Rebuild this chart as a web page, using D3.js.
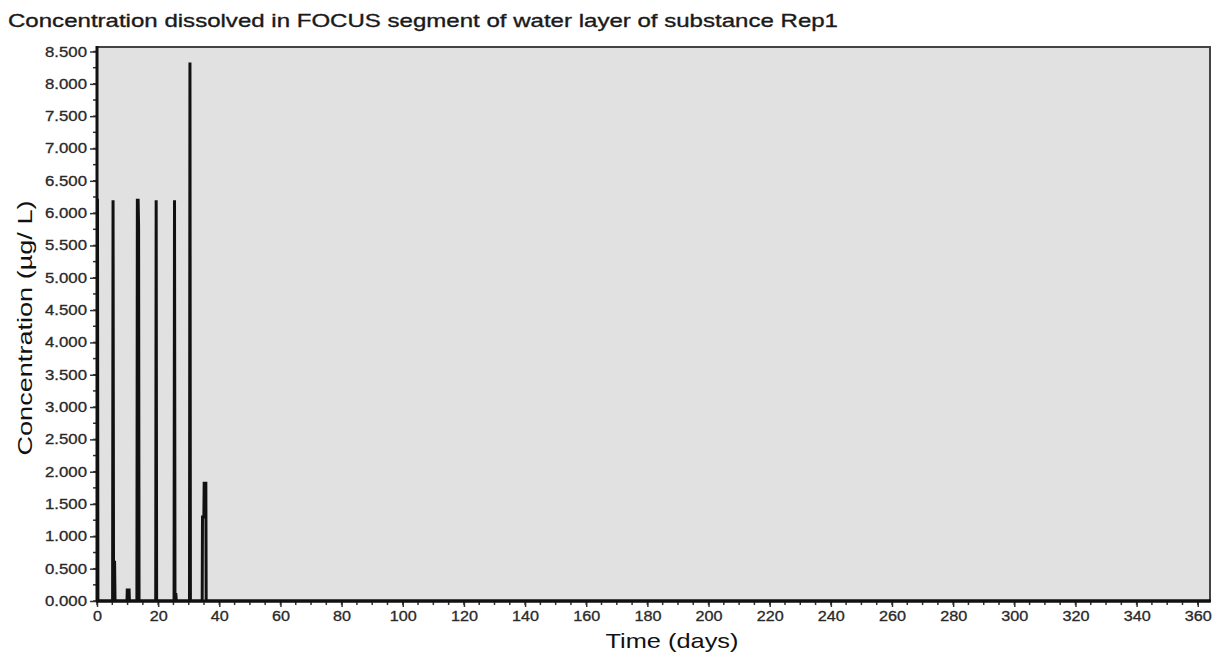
<!DOCTYPE html>
<html><head><meta charset="utf-8">
<script src="https://cdn.jsdelivr.net/npm/d3@7"></script>
<style>body{margin:0;background:#fff}svg{display:block;font-family:"Liberation Sans",Arial,sans-serif}</style>
</head><body><svg id="c" width="1219" height="657"></svg>
<script>
const title = "Concentration dissolved in FOCUS segment of water layer of substance Rep1";
const xLabel = "Time (days)";
const yLabel = "Concentration  (µg/ L)";
// time (days) and dissolved concentration (µg/L)
const times = [0, 0.15, 0.3, 5.1, 5.25, 5.4, 5.75, 5.9, 9.8, 9.9, 10.5, 10.6, 13.05, 13.2, 13.45, 13.6, 13.75, 19.2, 19.35, 19.5, 25.2, 25.35, 25.5, 25.8, 25.95, 30.25, 30.4, 30.55, 34.4, 34.5, 34.95, 35.05, 35.6, 35.7, 364];
const conc  = [6.2, 6.2, 0, 0, 6.2, 0.6, 0.6, 0, 0, 0.17, 0.17, 0, 0, 6.2, 6.2, 5.78, 0, 0, 6.2, 0, 0, 6.2, 0.1, 0.1, 0, 0, 8.33, 0, 0, 1.3, 1.3, 1.82, 1.82, 0, 0];
const xTicks = d3.range(0, 361, 20);
const xMinor = d3.range(0, 364, 5);
const yTicks = d3.range(0, 8.51, 0.5);
const yMinor = d3.range(0, 8.51, 0.25);

const svg = d3.select("#c");
const L = 97, R = 1210, T = 47, B = 601;
const x = d3.scaleLinear().domain([0, 364]).range([L, R]);
const y = d3.scaleLinear().domain([0, 8.57]).range([B, T]);

svg.append("text").attr("x", 8).attr("y", 27).attr("font-size", 19).attr("fill", "#1a1a1a")
  .attr("stroke", "#1a1a1a").attr("stroke-width", 0.35)
  .attr("textLength", 830).attr("lengthAdjust", "spacingAndGlyphs").text(title);

svg.append("rect").attr("x", L).attr("y", T).attr("width", R - L).attr("height", B - T)
  .attr("fill", "#e1e1e1").attr("stroke", "#444").attr("stroke-width", 2);

// minor ticks
svg.append("g").selectAll("line").data(yMinor).join("line")
  .attr("x1", L - 4).attr("x2", L).attr("y1", d => y(d)).attr("y2", d => y(d))
  .attr("stroke", "#333").attr("stroke-width", 1.5);
svg.append("g").selectAll("line").data(xMinor).join("line")
  .attr("y1", B).attr("y2", B + 4).attr("x1", d => x(d)).attr("x2", d => x(d))
  .attr("stroke", "#333").attr("stroke-width", 1.5);

const yAxis = svg.append("g").attr("transform", `translate(${L},0)`)
  .call(d3.axisLeft(y).tickValues(yTicks).tickFormat(d3.format(".3f")).tickSize(7).tickPadding(3));
const xAxis = svg.append("g").attr("transform", `translate(0,${B})`)
  .call(d3.axisBottom(x).tickValues(xTicks).tickFormat(d3.format("d")).tickSize(6).tickPadding(4));
[yAxis, xAxis].forEach(g => {
  g.select(".domain").remove();
  g.selectAll("line").attr("stroke", "#333").attr("stroke-width", 1.5);
  g.selectAll("text").attr("font-size", 14).attr("fill", "#2a2a2a").attr("stroke", "#2a2a2a").attr("stroke-width", 0.3)
    .attr("font-family", "Liberation Sans, Arial, sans-serif");
});
yAxis.selectAll("text").attr("textLength", 42).attr("lengthAdjust", "spacingAndGlyphs");
xAxis.selectAll("text").each(function(d){ d3.select(this).attr("textLength", String(d).length * 9).attr("lengthAdjust", "spacingAndGlyphs"); });

const line = d3.line().x((d, i) => x(times[i])).y(d => y(d));
svg.append("path").datum(conc).attr("d", line).attr("fill", "none")
  .attr("stroke", "#111").attr("stroke-width", 3).attr("stroke-linejoin", "miter");

// axis lines
svg.append("line").attr("x1", L).attr("x2", L).attr("y1", T - 1).attr("y2", B + 1).attr("stroke", "#111").attr("stroke-width", 3);
svg.append("line").attr("x1", L - 1).attr("x2", R + 1).attr("y1", B).attr("y2", B).attr("stroke", "#111").attr("stroke-width", 3);

svg.append("text").attr("x", 672).attr("y", 648).attr("text-anchor", "middle").attr("font-size", 21)
  .attr("fill", "#111").attr("textLength", 133).attr("lengthAdjust", "spacingAndGlyphs").text(xLabel);
svg.append("text").attr("transform", "translate(32,328) rotate(-90)").attr("text-anchor", "middle").attr("font-size", 21)
  .attr("fill", "#111").attr("textLength", 255).attr("lengthAdjust", "spacingAndGlyphs").text(yLabel);
</script></body></html>
